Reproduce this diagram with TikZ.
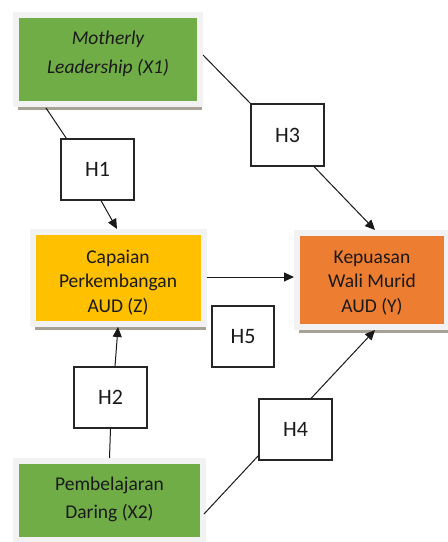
\documentclass[tikz,border=0pt]{standalone}
\usepackage{fontspec}
\setmainfont{Carlito}
\usetikzlibrary{arrows.meta,shadows,calc}
\definecolor{grn}{HTML}{70AD47}
\definecolor{ylw}{HTML}{FFC000}
\definecolor{org}{HTML}{ED7D31}
\definecolor{rim}{HTML}{F2F2F2}
\definecolor{shd}{HTML}{A8A296}
\definecolor{txt}{HTML}{1A1A1A}
\tikzset{
  varbox/.style={rectangle, draw=rim, line width=6pt, inner sep=0pt, align=center,
    text=txt, font=\fontsize{19.5}{24.5}\selectfont,
    drop shadow={shadow xshift=2pt, shadow yshift=-6pt, fill=shd, opacity=1}},
  vartext/.style={align=center, inner sep=0pt, text=txt},
  hbox/.style={rectangle, draw=black!85, line width=1.1pt, fill=white, inner sep=0pt,
    font=\fontsize{22}{26}\selectfont, text=txt},
  link/.style={draw=black!90, line width=1pt},
  arr/.style={link, -{Triangle[length=10pt,width=9pt]}}
}
\begin{document}
\begin{tikzpicture}[x=1pt,y=-1pt]
\useasboundingbox (0,0) rectangle (448,542);
\node[varbox, fill=grn, minimum width=184pt, minimum height=89pt] (X1) at (108,59.5) {};
\node[vartext, font=\fontsize{19.5}{28.5}\selectfont\itshape] (X1t) at ([yshift=5.5pt]X1.center) {Motherly\\Leadership (X1)};
\node[varbox, fill=ylw, minimum width=171pt, minimum height=92pt] (Z) at (118,278) {};
\node[vartext, font=\fontsize{19.5}{24.5}\selectfont] (Zt) at ([yshift=-4.5pt]Z.center) {Capaian\\Perkembangan\\AUD (Z)};
\node[varbox, fill=org, minimum width=150pt, minimum height=94pt] (Y) at (372,280) {};
\node[vartext, font=\fontsize{19.5}{24.5}\selectfont] (Yt) at ([yshift=-3pt]Y.center) {Kepuasan\\Wali Murid\\AUD (Y)};
\node[varbox, fill=grn, minimum width=187pt, minimum height=79pt] (X2) at (109.5,500.5) {};
\node[vartext, font=\fontsize{19.5}{27.5}\selectfont] (X2t) at ([yshift=1pt]X2.center) {Pembelajaran\\Daring (X2)};

\node[hbox, minimum width=73pt, minimum height=61pt] (H1) at (97.5,169.5) {H1};
\node[hbox, minimum width=73pt, minimum height=62pt] (H3) at (287.5,135) {H3};
\node[hbox, minimum width=62pt, minimum height=61pt] (H5) at (243,336.5) {H5};
\node[hbox, minimum width=73pt, minimum height=61pt] (H2) at (110.5,397.5) {H2};
\node[hbox, minimum width=73pt, minimum height=61pt] (H4) at (295.5,429.5) {H4};

% X1 -> H1 -> Z
\draw[link] ([xshift=33pt,yshift=-1pt]X1.south west) -- ([xshift=6pt]H1.north west);
\draw[arr] ([xshift=3.5pt]H1.south) -- ([xshift=-1pt]Z.north);
% X1 -> H3 -> Y
\draw[link] ([yshift=4.5pt]X1.east) -- (H3.north west);
\draw[arr] ([xshift=26.5pt]H3.south) -- ([xshift=3pt]Y.north);
% Z -> Y
\draw[arr] ([yshift=1pt]Z.east) -- ([yshift=1pt]Z.east -| Y.west);
% X2 -> H2 -> Z
\draw[link] (X2.north) -- (H2.south);
\draw[arr] ([xshift=4.5pt]H2.north) -- (Z.south);
% X2 -> H4 -> Y
\draw[link] ([xshift=-2pt,yshift=-13.5pt]X2.east) -- ([yshift=5pt]H4.south west);
\draw[arr] ([xshift=15.5pt]H4.north) -- ([xshift=3pt]Y.south);
\end{tikzpicture}
\end{document}
